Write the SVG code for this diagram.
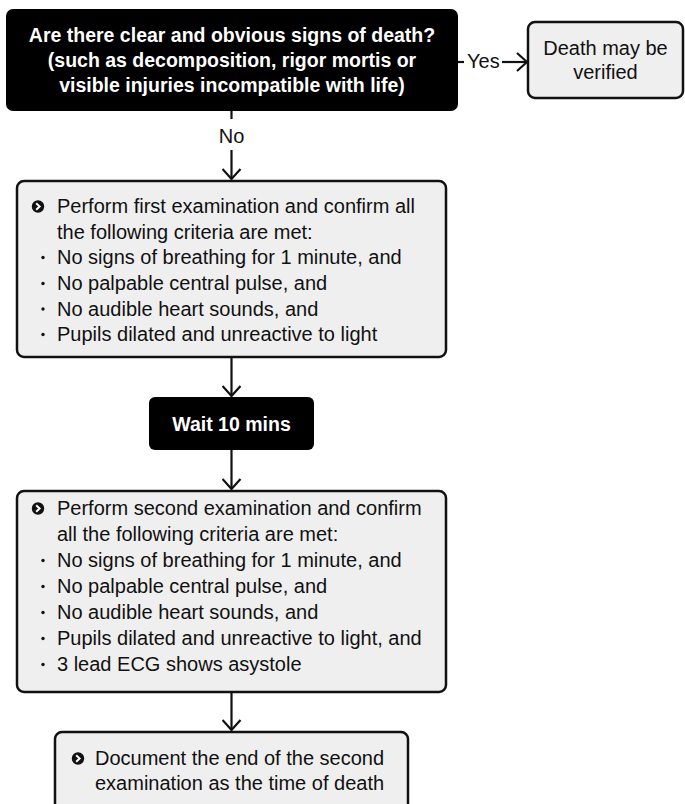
<svg xmlns="http://www.w3.org/2000/svg" width="685" height="804" viewBox="0 0 685 804">
  <defs>
    <style>
      .dark { fill: #000; }
      .light { fill: #efefef; stroke: #111; stroke-width: 2.5; }
      .t { font-family: "Liberation Sans", Arial, sans-serif; font-size: 20px; fill: #111; }
      .tb { font-family: "Liberation Sans", Arial, sans-serif; font-size: 19.5px; font-weight: bold; fill: #fff; }
      .mid { text-anchor: middle; }
      .wire { fill: none; stroke: #111; stroke-width: 2.2; }
      .dot { fill: #111; }
    </style>
    <!-- open chevron arrowhead -->
    <marker id="head" viewBox="0 0 12 20" refX="11" refY="10" markerWidth="12" markerHeight="20" markerUnits="userSpaceOnUse" orient="auto">
      <path d="M1,1 L11,10 L1,19" fill="none" stroke="#111" stroke-width="2.2"/>
    </marker>
    <!-- round bullet with chevron -->
    <g id="chev">
      <circle cx="0" cy="0" r="6.2" fill="#111"/>
      <path d="M-1.8,-3.2 L1.6,0 L-1.8,3.2" fill="none" stroke="#fff" stroke-width="2"/>
    </g>
  </defs>

  <g id="connectors">
    <!-- Yes branch -->
    <line class="wire" x1="458" y1="62" x2="464" y2="62"/>
    <text class="t" x="467" y="68" font-size="19">Yes</text>
    <line class="wire" x1="502" y1="62" x2="527" y2="62" marker-end="url(#head)"/>
    <!-- No branch -->
    <line class="wire" x1="231.5" y1="111" x2="231.5" y2="119"/>
    <text class="t mid" x="231.5" y="143" font-size="19">No</text>
    <line class="wire" x1="231.5" y1="150" x2="231.5" y2="179" marker-end="url(#head)"/>
    <!-- first exam to wait -->
    <line class="wire" x1="231.5" y1="357" x2="231.5" y2="396" marker-end="url(#head)"/>
    <!-- wait to second exam -->
    <line class="wire" x1="231.5" y1="450" x2="231.5" y2="489" marker-end="url(#head)"/>
    <!-- second exam to documentation -->
    <line class="wire" x1="231.5" y1="692" x2="231.5" y2="730" marker-end="url(#head)"/>
  </g>

  <g id="question">
    <rect class="dark" x="6" y="9" width="452" height="102" rx="7"/>
    <text class="tb mid" x="232" y="42">Are there clear and obvious signs of death?</text>
    <text class="tb mid" x="232" y="67">(such as decomposition, rigor mortis or</text>
    <text class="tb mid" x="232" y="92">visible injuries incompatible with life)</text>
  </g>

  <g id="verified">
    <rect class="light" x="528" y="22" width="155" height="76" rx="7"/>
    <text class="t mid" x="605.5" y="55">Death may be</text>
    <text class="t mid" x="605.5" y="79">verified</text>
  </g>

  <g id="first-exam">
    <rect class="light" x="17" y="181" width="429" height="176" rx="7"/>
    <use href="#chev" x="38" y="206.5"/>
    <text class="t" x="57" y="213">Perform first examination and confirm all</text>
    <text class="t" x="57" y="238.5">the following criteria are met:</text>
    <circle class="dot" cx="43" cy="257.5" r="1.7"/>
    <text class="t" x="57" y="264">No signs of breathing for 1 minute, and</text>
    <circle class="dot" cx="43" cy="283.5" r="1.7"/>
    <text class="t" x="57" y="290">No palpable central pulse, and</text>
    <circle class="dot" cx="43" cy="309" r="1.7"/>
    <text class="t" x="57" y="315.5">No audible heart sounds, and</text>
    <circle class="dot" cx="43" cy="334.5" r="1.7"/>
    <text class="t" x="57" y="341">Pupils dilated and unreactive to light</text>
  </g>

  <g id="wait">
    <rect class="dark" x="149" y="397" width="165" height="53" rx="6"/>
    <text class="tb mid" x="231.5" y="431">Wait 10 mins</text>
  </g>

  <g id="second-exam">
    <rect class="light" x="17" y="491" width="429" height="201" rx="7"/>
    <use href="#chev" x="38" y="508.5"/>
    <text class="t" x="57" y="515">Perform second examination and confirm</text>
    <text class="t" x="57" y="541">all the following criteria are met:</text>
    <circle class="dot" cx="43" cy="560.5" r="1.7"/>
    <text class="t" x="57" y="567">No signs of breathing for 1 minute, and</text>
    <circle class="dot" cx="43" cy="586.5" r="1.7"/>
    <text class="t" x="57" y="593">No palpable central pulse, and</text>
    <circle class="dot" cx="43" cy="612.5" r="1.7"/>
    <text class="t" x="57" y="619">No audible heart sounds, and</text>
    <circle class="dot" cx="43" cy="638.5" r="1.7"/>
    <text class="t" x="57" y="645">Pupils dilated and unreactive to light, and</text>
    <circle class="dot" cx="43" cy="664.5" r="1.7"/>
    <text class="t" x="57" y="671">3 lead ECG shows asystole</text>
  </g>

  <g id="document">
    <rect class="light" x="55" y="732" width="353" height="90" rx="7"/>
    <use href="#chev" x="78" y="758.5"/>
    <text class="t" x="95" y="765">Document the end of the second</text>
    <text class="t" x="95" y="790">examination as the time of death</text>
  </g>
</svg>
